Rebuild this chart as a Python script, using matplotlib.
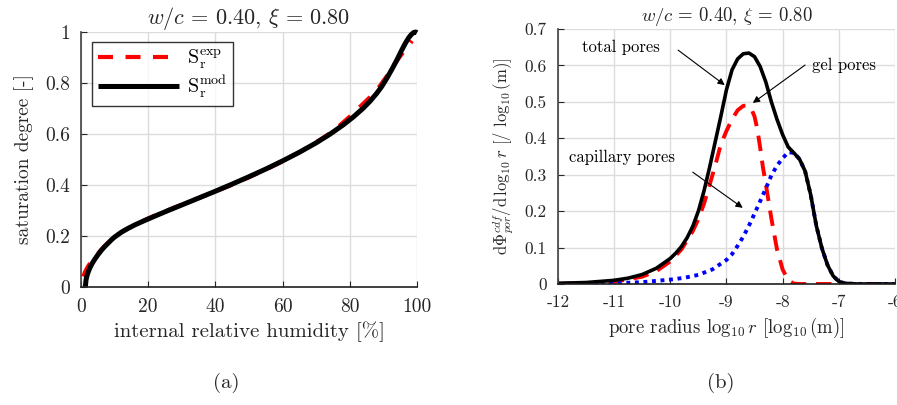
import matplotlib
matplotlib.use("Agg")
import matplotlib.pyplot as plt
import numpy as np

plt.rcParams['font.family'] = 'serif'
plt.rcParams['font.serif'] = ['cmr10', 'DejaVu Serif']
plt.rcParams['mathtext.fontset'] = 'cm'
plt.rcParams['axes.unicode_minus'] = False
plt.rcParams['axes.formatter.use_mathtext'] = True

# (a) saturation degree vs internal relative humidity
rh_mod = [1.3, 1.5, 1.8, 2.2, 2.7, 3.3, 4, 5, 6, 7, 8, 9, 10, 12, 14, 16, 18, 20, 23, 26, 30,
          35, 40, 45, 50, 55, 60, 65, 70, 74, 78, 81, 84, 86, 88, 89.5, 91, 92.5, 94, 95.5,
          96.5, 97.5, 98.3, 99, 99.6, 100]
sr_mod = [0.0, 0.027, 0.044, 0.06, 0.0755, 0.091, 0.106, 0.125, 0.142, 0.157, 0.170, 0.1835,
          0.195, 0.214, 0.229, 0.2425, 0.2545, 0.266, 0.283, 0.2995, 0.321, 0.348, 0.375,
          0.403, 0.432, 0.462, 0.494, 0.528, 0.565, 0.598, 0.635, 0.666, 0.701, 0.728, 0.759,
          0.786, 0.818, 0.853, 0.89, 0.93, 0.955, 0.977, 0.99, 0.998, 1.0, 0.997]
rh_exp = [0.7, 1.2, 2, 3, 4, 5, 6, 8, 10, 13, 16, 20, 25, 30, 35, 40, 45, 50, 55, 60, 65, 70,
          75, 80, 83, 86, 89, 92, 94, 96, 97.5, 98.5]
sr_exp = [0.04, 0.058, 0.078, 0.098, 0.113, 0.13, 0.145, 0.172, 0.196, 0.222, 0.243, 0.268,
          0.296, 0.322, 0.348, 0.374, 0.401, 0.43, 0.46, 0.493, 0.528, 0.567, 0.61, 0.668,
          0.706, 0.744, 0.789, 0.845, 0.887, 0.923, 0.947, 0.965]

# (b) pore size distribution
logr_tot = [-12, -11.5, -11, -10.75, -10.5, -10.25, -10, -9.9, -9.8, -9.7, -9.6, -9.5, -9.4,
            -9.3, -9.2, -9.1, -9.0, -8.9, -8.8, -8.7, -8.6, -8.5, -8.4, -8.3, -8.2, -8.1, -8.0,
            -7.9, -7.8, -7.7, -7.6, -7.5, -7.4, -7.3, -7.2, -7.1, -7.0, -6.9, -6.7, -6]
pd_tot = [0.002, 0.004, 0.01, 0.016, 0.026, 0.043, 0.07, 0.085, 0.103, 0.127, 0.158, 0.2,
          0.255, 0.32, 0.39, 0.46, 0.533, 0.588, 0.618, 0.632, 0.634, 0.624, 0.597, 0.555,
          0.5, 0.452, 0.41, 0.376, 0.36, 0.343, 0.31, 0.245, 0.16, 0.098, 0.052, 0.022,
          0.007, 0.002, 0.0, 0.0]
logr_gel = [-12, -11.5, -11, -10.5, -10.25, -10, -9.8, -9.6, -9.5, -9.4, -9.3, -9.2, -9.1,
            -9.0, -8.9, -8.8, -8.7, -8.62, -8.55, -8.5, -8.45, -8.4, -8.35, -8.3, -8.2, -8.1,
            -8.0, -7.9, -7.8, -7.7, -6]
pd_gel = [0.0005, 0.002, 0.006, 0.02, 0.035, 0.062, 0.095, 0.145, 0.178, 0.22, 0.272, 0.325,
          0.383, 0.42, 0.452, 0.477, 0.489, 0.49, 0.478, 0.46, 0.425, 0.375, 0.32, 0.275,
          0.18, 0.095, 0.04, 0.01, 0.001, 0.0, 0.0]
logr_cap = [-12, -11.5, -11, -10.5, -10, -9.75, -9.5, -9.25, -9.0, -8.9, -8.8, -8.7, -8.6,
            -8.5, -8.4, -8.3, -8.2, -8.1, -8.0, -7.9, -7.8, -7.7, -7.6, -7.5, -7.4, -7.3,
            -7.2, -7.1, -7.0, -6.9, -6.7, -6]
pd_cap = [0.0, 0.0005, 0.002, 0.005, 0.012, 0.017, 0.025, 0.04, 0.066, 0.082, 0.105, 0.13,
          0.16, 0.193, 0.227, 0.262, 0.298, 0.325, 0.345, 0.362, 0.36, 0.343, 0.31, 0.245,
          0.16, 0.098, 0.052, 0.022, 0.007, 0.002, 0.0, 0.0]

txt = '#262626'
grid_c = '#dcdcdc'
title = r'$w/c \,=\, 0.40$, $\xi \,=\, 0.80$'

fig = plt.figure(figsize=(8.97, 4.05), dpi=100)
ax1 = fig.add_axes([0.0903, 0.292, 0.3746, 0.629])
ax2 = fig.add_axes([0.622, 0.2988, 0.3757, 0.6296])

for ax in (ax1, ax2):
    ax.grid(True, color=grid_c, lw=1.0)
    ax.set_axisbelow(True)
    ax.spines['top'].set_visible(False)
    ax.spines['right'].set_visible(False)
    ax.spines['left'].set_color('#404040')
    ax.spines['bottom'].set_color('#202020')
    ax.spines['left'].set_linewidth(1.2)
    ax.spines['bottom'].set_linewidth(1.2)
    ax.tick_params(direction='in', length=4, colors=txt, width=0.8, pad=8)

# ---- (a)
ax1.plot(rh_exp, sr_exp, color='red', lw=3.0, ls=(0, (3.6, 3.0)),
         label=r'$\mathrm{S}_\mathrm{r}^\mathrm{exp}$', clip_on=False)
ax1.plot(rh_mod, sr_mod, color='black', lw=3.6,
         label=r'$\mathrm{S}_\mathrm{r}^\mathrm{mod}$', clip_on=False, solid_capstyle='butt')
ax1.set_xlim(0, 100)
ax1.set_ylim(0, 1)
ax1.set_xticks([0, 20, 40, 60, 80, 100])
ax1.set_xticklabels(['0', '20', '40', '60', '80', '100'], fontsize=14)
ax1.set_yticks([0, 0.2, 0.4, 0.6, 0.8, 1])
ax1.set_yticklabels(['0', '0.2', '0.4', '0.6', '0.8', '1'], fontsize=14)
ax1.set_xlabel('internal relative humidity [%]', fontsize=15, color=txt, labelpad=4)
ax1.set_ylabel('saturation degree [-]', fontsize=14, color=txt, labelpad=8)
ax1.set_title(title, fontsize=16, color=txt, pad=5)
leg = ax1.legend(loc='upper left', bbox_to_anchor=(0.033, 0.961), fontsize=14.5,
                 handlelength=4.0, frameon=True, fancybox=False, borderaxespad=0,
                 borderpad=0.3, labelspacing=0.12, handletextpad=0.4)
leg.get_frame().set_edgecolor('black')
leg.get_frame().set_linewidth(1.0)

# ---- (b)
ax2.plot(logr_gel, pd_gel, color='red', lw=2.8, ls=(0, (4, 2.5)))
ax2.plot(logr_cap, pd_cap, color='blue', lw=2.8, ls=(0, (1, 1.2)))
ax2.plot(logr_tot, pd_tot, color='black', lw=2.6)
ax2.set_xlim(-12, -6)
ax2.set_ylim(0, 0.7)
ax2.set_xticks([-12, -11, -10, -9, -8, -7, -6])
ax2.set_xticklabels(['-12', '-11', '-10', '-9', '-8', '-7', '-6'], fontsize=12.5)
ax2.set_yticks([0, 0.1, 0.2, 0.3, 0.4, 0.5, 0.6, 0.7])
ax2.set_yticklabels(['0', '0.1', '0.2', '0.3', '0.4', '0.5', '0.6', '0.7'], fontsize=12.5)
ax2.set_xlabel(r'pore radius $\log_{10} r$ [$\log_{10}$(m)]', fontsize=13.5, color=txt, labelpad=4)
ax2.set_ylabel(r'd$\Phi_{por}^{cdf}$/d$\,\log_{10} r$ [/ $\log_{10}$(m)]', fontsize=12,
               color=txt, labelpad=6)
ax2.set_title(title, fontsize=13.5, color=txt, pad=6)

arr = dict(arrowstyle='-|>', color='black', lw=0.8, mutation_scale=10, shrinkA=0, shrinkB=0)
ax2.annotate('', xy=(-9.03, 0.546), xytext=(-9.86, 0.642), arrowprops=arr)
ax2.text(-11.57, 0.65, 'total pores', fontsize=12, color='black', va='center', ha='left')
ax2.annotate('', xy=(-8.53, 0.497), xytext=(-7.6, 0.601), arrowprops=arr)
ax2.text(-7.48, 0.601, 'gel pores', fontsize=12, color='black', va='center', ha='left')
ax2.annotate('', xy=(-8.71, 0.209), xytext=(-9.6, 0.307), arrowprops=arr)
ax2.text(-11.8, 0.349, 'capillary pores', fontsize=12, color='black', va='center', ha='left')

fig.text(226 / 897, 1 - 383 / 405, '(a)', fontsize=15, color=txt, ha='center', va='center')
fig.text(721 / 897, 1 - 383 / 405, '(b)', fontsize=15, color=txt, ha='center', va='center')

fig.savefig('out.png', dpi=100)
